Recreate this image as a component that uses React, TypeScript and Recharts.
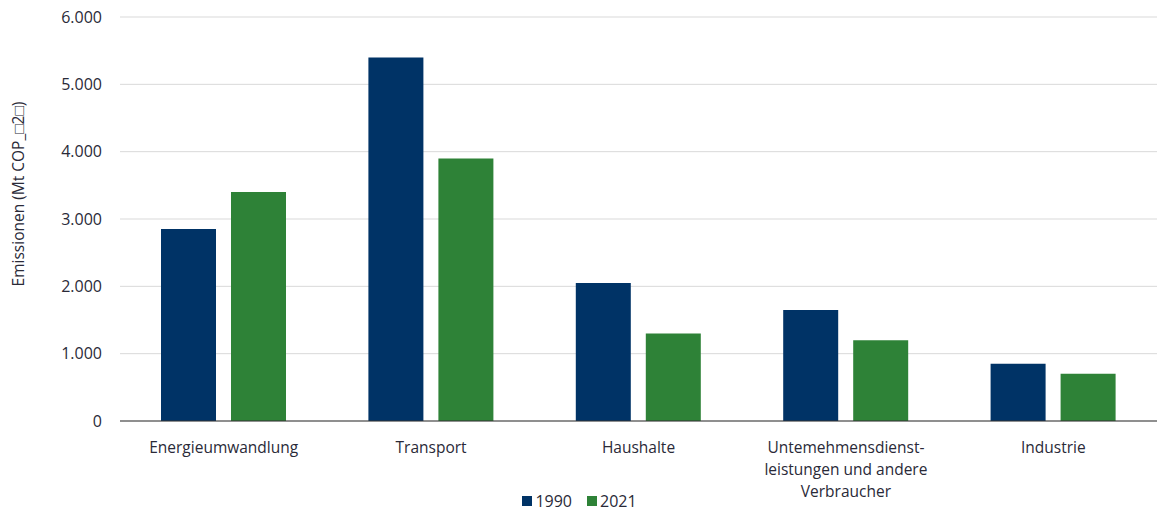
import React from 'react';
import { BarChart, Bar, XAxis, YAxis, CartesianGrid, Legend, Label } from 'recharts';

const categories = [
  'Energieumwandlung',
  'Transport',
  'Haushalte',
  'Untemehmensdienst-\nleistungen und andere\nVerbraucher',
  'Industrie',
];
const values1990 = [2850, 5400, 2050, 1650, 850];
const values2021 = [3400, 3900, 1300, 1200, 700];
const yTicks = [0, 1000, 2000, 3000, 4000, 5000, 6000];
const seriesNames = ['1990', '2021'];
const colors = ['#003366', '#2e8237'];

const data = categories.map((c, i) => ({ name: c, v1990: values1990[i], v2021: values2021[i] }));

const FONT = '"Open Sans", "Liberation Sans", Arial, sans-serif';
const TXT = '#2a2a38';
const fmt = (v: number) => (v === 0 ? '0' : v.toLocaleString('de-DE'));

const XTick = (props: any) => {
  const { x, y, payload } = props;
  const lines = String(payload.value).split('\n');
  return (
    <g>
      {lines.map((l: string, i: number) => (
        <text key={i} x={x} y={y + 24 + i * 22} textAnchor="middle" fill={TXT} fontSize={15.5} fontFamily={FONT}>
          {l}
        </text>
      ))}
    </g>
  );
};

const LegendContent = () => (
  <div style={{ display: 'flex', justifyContent: 'center', gap: 15, fontFamily: FONT, fontSize: 16, color: TXT, paddingLeft: 2, lineHeight: '20px' }}>
    {seriesNames.map((n, i) => (
      <div key={n} style={{ display: 'flex', alignItems: 'center', gap: 3 }}>
        <span style={{ display: 'inline-block', width: 10, height: 10, background: colors[i] }} />
        <span>{n}</span>
      </div>
    ))}
  </div>
);

export default function App() {
  return (
    <div style={{ position: 'absolute', left: 0, top: 0, background: '#fff' }}>
      <BarChart
        width={1157}
        height={516}
        data={data}
        margin={{ top: 17, right: 0, left: 0, bottom: 0 }}
        barGap={15}
      >
        <CartesianGrid vertical={false} stroke="#d9d9d9" />
        <XAxis
          dataKey="name"
          height={70}
          tickLine={false}
          axisLine={{ stroke: '#333' }}
          tick={<XTick />}
          interval={0}
        />
        <YAxis
          width={120}
          domain={[0, 6000]}
          ticks={yTicks}
          tickFormatter={fmt}
          tickLine={false}
          axisLine={false}
          tickSize={0}
          tickMargin={18}
          tick={{ fill: TXT, fontSize: 16, fontFamily: FONT }}
        >
          <Label
            content={() => (
              <text
                x={18}
                y={194}
                transform="rotate(-90, 18, 194)"
                textAnchor="middle"
                dominantBaseline="central"
                fill={TXT}
                fontSize={15.5}
                fontFamily={FONT}
              >
                {'Emissionen (Mt COP_\u25A12\u25A1)'}
              </text>
            )}
          />
        </YAxis>
        <Legend verticalAlign="bottom" height={25} content={<LegendContent />} />
        <Bar dataKey="v1990" name="1990" fill={colors[0]} barSize={55} isAnimationActive={false} />
        <Bar dataKey="v2021" name="2021" fill={colors[1]} barSize={55} isAnimationActive={false} />
      </BarChart>
    </div>
  );
}
